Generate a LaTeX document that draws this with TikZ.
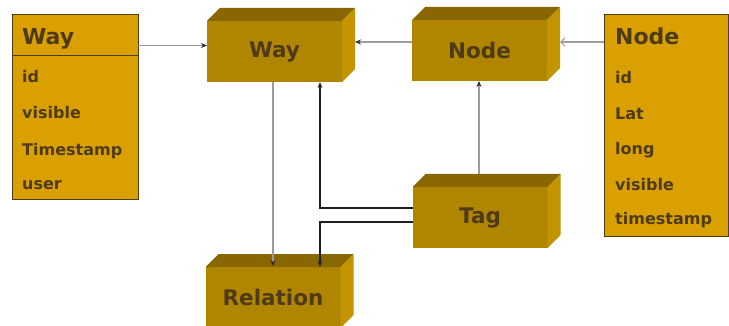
\documentclass[tikz,border=0pt]{standalone}
\usepackage{fontspec}
\setmainfont{DejaVu Sans}
\usetikzlibrary{arrows.meta,calc}
\definecolor{tabfill}{RGB}{218,160,0}
\definecolor{frontc}{RGB}{176,134,0}
\definecolor{topc}{RGB}{136,102,0}
\definecolor{sidec}{RGB}{196,148,0}
\definecolor{txt}{RGB}{78,58,20}
\definecolor{edgec}{RGB}{80,60,20}
\definecolor{gline}{RGB}{155,155,160}
\definecolor{kline}{RGB}{30,30,30}
\definecolor{tipc}{RGB}{40,40,60}
\tikzset{
 front/.style={fill=frontc, minimum width=135pt, minimum height=61pt, inner sep=0pt, outer sep=0pt, font=\bfseries\fontsize{21.5}{21.5}\selectfont, text=txt},
 tbl/.style={draw=edgec, fill=tabfill, line width=1pt, inner sep=0pt, outer sep=0pt},
 ttl/.style={anchor=base west, font=\bfseries\fontsize{22}{22}\selectfont, text=txt, inner sep=0pt},
 row/.style={anchor=base west, font=\bfseries\fontsize{16}{16}\selectfont, text=txt, inner sep=0pt},
 gconn/.style={draw=gline, line width=1.1pt, -{Stealth[length=6pt,width=5pt,color=tipc]}},
 oconn/.style={draw=gline, line width=1.1pt, -{Straight Barb[length=4pt,width=8pt]}},
 kconn/.style={draw=kline, line width=1.2pt, -{Stealth[length=6pt,width=5pt,color=tipc]}},
 topface/.style={fill=topc},
 sideface/.style={fill=sidec},
}
\newcommand{\boxfaces}[1]{%
  \fill[topface] (#1.north west) -- ++(13,-13) -- ($(#1.north east)+(13,-13)$) -- (#1.north east) -- cycle;
  \fill[sideface] (#1.north east) -- ++(13,-13) -- ($(#1.south east)+(13,-13)$) -- (#1.south east) -- cycle;
}
\begin{document}
\begin{tikzpicture}[x=1pt,y=-1pt]
\useasboundingbox[fill=white] (0,0) rectangle (729,326);
\clip (0,0) rectangle (729,326);

% Way table
\node[tbl, minimum width=126pt, minimum height=185pt, anchor=north west] (wayt) at (12,15) {};
\draw[edgec, line width=1pt] (wayt.west |- 0,56) -- (wayt.east |- 0,56);
\node[ttl] (wayttl) at (22,45) {Way};
\node[row] (way1) at (22,83) {id};
\node[row] (way2) at (22,119) {visible};
\node[row] (way3) at (22,156) {Timestamp};
\node[row] (way4) at (22,190) {user};

% Node table
\node[tbl, minimum width=124pt, minimum height=222pt, anchor=north west] (nodet) at (604,15) {};
\node[ttl] (nodettl) at (615,45) {Node};
\node[row] (node1) at (615,84) {id};
\node[row] (node2) at (615,120) {Lat};
\node[row] (node3) at (615,155) {long};
\node[row] (node4) at (615,191) {visible};
\node[row] (node5) at (615,225) {timestamp};

% 3D boxes
\node[front] (way) at (274.5,51.5) {Way};
\boxfaces{way}
\node[front] (node) at (479.5,50.5) {Node};
\boxfaces{node}
\node[front] (tag) at (480,217.5) {Tag};
\boxfaces{tag}
\node[front] (rel) at (273,297.5) {Relation};
\boxfaces{rel}

\coordinate (wayside) at ($(way.east)+(13,0)$);
\coordinate (nodeside) at ($(node.east)+(13,0)$);
\coordinate (tagtop) at ($(tag.north)+(-1,-13)$);

% connectors
\draw[gconn] (wayt.east |- 0,45.5) -- (way.west |- 0,45.5);
\draw[gconn] (node.west |- 0,42) -- (wayside |- 0,42);
\draw[oconn] (nodet.west |- 0,42) -- (nodeside |- 0,42);
\draw[gconn] (tagtop) -- (tagtop |- node.south);
\draw[gconn] (way.south -| rel.north) -- ($(rel.north)+(0,-1)$);
\draw[kconn] (tag.west |- 0,208) -| ([xshift=45.5pt]way.south);
\draw[kconn] (tag.west |- 0,222) -| ([xshift=47pt]rel.north);
\end{tikzpicture}
\end{document}
